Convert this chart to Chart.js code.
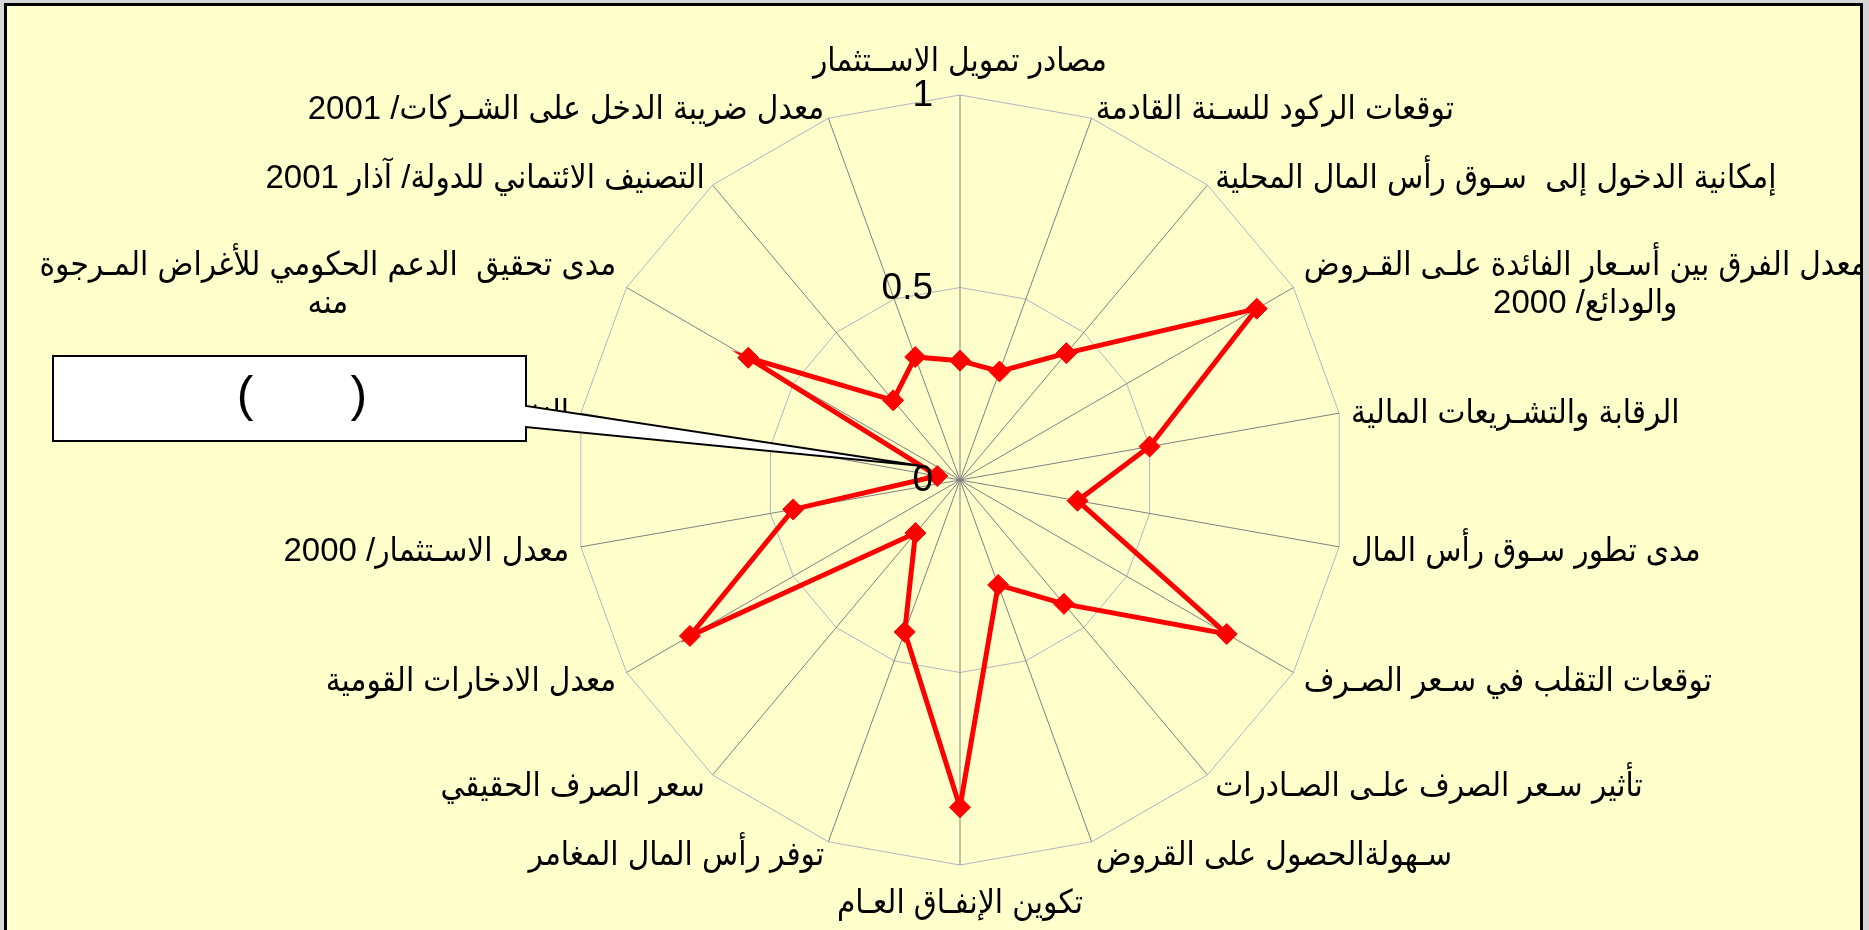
<!DOCTYPE html>
<html>
<head>
<meta charset="utf-8">
<script src="https://cdn.jsdelivr.net/npm/chart.js@4.4.1/dist/chart.umd.min.js"></script>
<style>
  html, body { margin: 0; padding: 0; background: #d6d6d6; }
  canvas { display: block; }
</style>
</head>
<body>
<canvas id="radar" width="1869" height="930"></canvas>
<script>
// categories, clockwise from the top
const categories = [
    'مصادر تمويل الاســتثمار',
    'توقعات الركود للسـنة القادمة',
    'إمكانية الدخول إلى  سـوق رأس المال المحلية',
    ['معدل الفرق بين أسـعار الفائدة علـى القـروض', '\u2066والودائع/ 2000\u2069'],
    'الرقابة والتشـريعات المالية',
    'مدى تطور سـوق رأس المال',
    'توقعات التقلب في سـعر الصـرف',
    'تأثير سـعر الصرف علـى الصـادرات',
    'سـهولةالحصول على القروض',
    'تكوين الإنفـاق العـام',
    'توفر رأس المال المغامر',
    'سعر الصرف الحقيقي',
    'معدل الادخارات القومية',
    'معدل الاسـتثمار/ 2000',
    'النفقات الحكومية',
    ['مدى تحقيق  الدعم الحكومي للأغراض المـرجوة', 'منه'],
    'التصنيف الائتماني للدولة/ آذار 2001',
    'معدل ضريبة الدخل على الشـركات/ 2001'
];

const scores = [0.31, 0.30, 0.43, 0.89, 0.50, 0.31, 0.80, 0.42, 0.29, 0.85,
                0.42, 0.18, 0.81, 0.44, 0.06, 0.635, 0.27, 0.34];

const tickValues = [0, 0.5, 1];
const tickLabels = ['0', '0.5', '1'];

const labelFont = '33px "Liberation Sans", "DejaVu Sans Condensed", "DejaVu Sans", sans-serif';
const tickFont = '37px "Liberation Sans", "DejaVu Sans", sans-serif';

const ctx = document.getElementById('radar').getContext('2d');

// frame: grey margin, black border, pale yellow area
const framePlugin = {
    id: 'frame',
    beforeDraw(chart) {
        const c = chart.ctx;
        c.save();
        c.fillStyle = '#d6d6d6';
        c.fillRect(0, 0, chart.width, chart.height);
        c.fillStyle = '#000000';
        c.fillRect(4, 3, 1859, 940);
        c.fillStyle = '#ffffcc';
        c.fillRect(7, 6, 1853, 940);
        c.restore();
    },
    afterDraw(chart) {
        // right edge clips the long label
        const c = chart.ctx;
        c.save();
        c.fillStyle = '#000000';
        c.fillRect(1860, 3, 3, chart.height);
        c.fillStyle = '#d6d6d6';
        c.fillRect(1863, 0, chart.width - 1863, chart.height);
        c.restore();
    }
};

// point labels and tick labels, placed from the radial scale
const labelsPlugin = {
    id: 'labels',
    afterDatasetsDraw(chart) {
        const r = chart.scales.r;
        const c = chart.ctx;
        c.save();
        c.fillStyle = '#000000';
        c.textBaseline = 'middle';

        // tick labels, left of the vertical axis
        c.font = tickFont;
        c.textAlign = 'right';
        c.direction = 'ltr';
        tickValues.forEach((v, i) => {
            const y = r.yCenter - r.getDistanceFromCenterForValue(v);
            c.fillText(tickLabels[i], r.xCenter - 27, y + 1);
        });

        c.font = labelFont;
        c.textAlign = 'center';
        c.direction = 'rtl';
        const n = categories.length;
        categories.forEach((lab, i) => {
            const lines = Array.isArray(lab) ? lab : [lab];
            const deg = i * 360 / n;
            let dist, align;
            if (deg === 0 || deg === 180) {
                dist = r.drawingArea + 36;
                align = 'center';
            } else {
                dist = r.drawingArea + 12;
                align = deg < 180 ? 'left' : 'right';
            }
            const p = r.getPointPosition(i, dist);
            const w = Math.max(...lines.map(l => c.measureText(l).width));
            const lh = 38;
            const top = p.y + 3 - (lines.length - 1) * lh / 2;
            let cx = p.x;
            if (align === 'left') cx = p.x + w / 2;
            if (align === 'right') cx = p.x - w / 2;
            lines.forEach((l, k) => c.fillText(l, cx, top + k * lh));
        });
        c.restore();
    },
    afterDraw(chart) {
        // callout box pointing at the centre
        const r = chart.scales.r;
        const c = chart.ctx;
        const tipX = r.xCenter - 38, tipY = r.yCenter - 14;
        c.save();
        c.beginPath();
        c.moveTo(53, 356);
        c.lineTo(526, 356);
        c.lineTo(526, 406);
        c.lineTo(tipX, tipY);
        c.lineTo(526, 427);
        c.lineTo(526, 441);
        c.lineTo(53, 441);
        c.closePath();
        c.fillStyle = '#ffffff';
        c.fill();
        c.lineWidth = 2;
        c.strokeStyle = '#000000';
        c.stroke();
        c.fillStyle = '#000000';
        c.font = '50px "Liberation Sans", "DejaVu Sans", sans-serif';
        c.textAlign = 'center';
        c.textBaseline = 'middle';
        c.direction = 'ltr';
        c.fillText('(       )', 302, 397);
        c.restore();
    }
};

const radarChart = new Chart(ctx, {
    type: 'radar',
    data: {
        labels: categories,
        datasets: [{
            label: 'scores',
            data: scores,
            borderColor: '#ff0000',
            borderWidth: 5,
            backgroundColor: '#ff0000',
            fill: false,
            pointStyle: 'rectRot',
            pointRadius: 10.5,
            pointBorderWidth: 1,
            pointBackgroundColor: '#ff0000',
            pointBorderColor: '#ff0000',
            tension: 0
        }]
    },
    options: {
        responsive: false,
        animation: false,
        devicePixelRatio: 1,
        layout: {
            padding: { left: 575, right: 524, top: 95, bottom: 65 }
        },
        plugins: {
            legend: { display: false },
            tooltip: { enabled: false }
        },
        scales: {
            r: {
                min: 0,
                max: 1,
                ticks: { display: false, stepSize: 0.5 },
                grid: { color: '#b4b4c4', lineWidth: 1 },
                angleLines: { color: '#808080', lineWidth: 1 },
                pointLabels: { display: false }
            }
        }
    },
    plugins: [framePlugin, labelsPlugin]
});
</script>
</body>
</html>
